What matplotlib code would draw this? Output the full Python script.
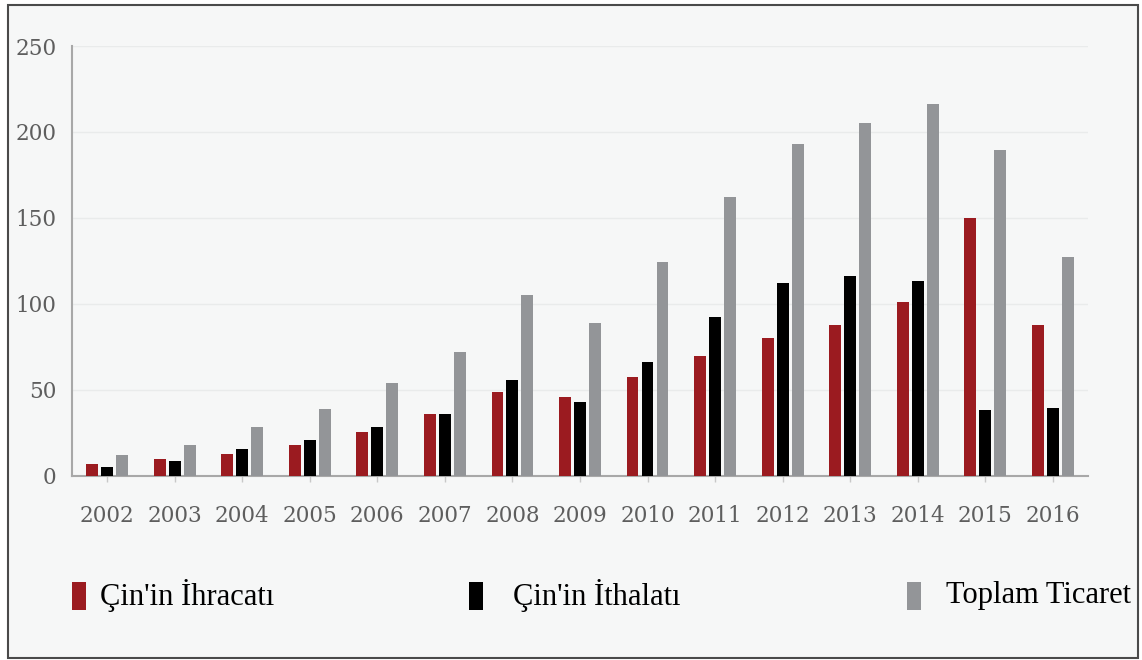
import matplotlib
matplotlib.use("Agg")
import matplotlib.pyplot as plt
from matplotlib.patches import Rectangle
import numpy as np

# Data
years = ['2002', '2003', '2004', '2005', '2006', '2007', '2008', '2009',
         '2010', '2011', '2012', '2013', '2014', '2015', '2016']
exports = [7, 10, 13, 18, 25.5, 36, 49, 46, 57.5, 69.5, 80, 88, 101, 150, 87.5]
imports = [5, 8.5, 15.5, 21, 28.5, 36, 56, 43, 66, 92.5, 112, 116, 113.5, 38.5, 39.5]
total = [12, 18, 28.5, 39, 54, 72, 105, 89, 124.5, 162, 193, 205, 216, 189.5, 127.5]
series_names = ["Çin'in İhracatı", "Çin'in İthalatı", "Toplam Ticaret"]

red = '#9b1b20'
black = '#000000'
gray = '#939598'

fig = plt.figure(figsize=(11.42, 6.60), dpi=100, facecolor='white')

# outer panel with border
fig.patches.append(Rectangle((8 / 1142, 2 / 660), 1130 / 1142, 653 / 660,
                             transform=fig.transFigure, facecolor='#f6f7f7',
                             edgecolor='#4a4a4a', linewidth=1.5, zorder=-10))

ax = fig.add_axes([0.063, 0.2788, 0.8897, 0.6515])
ax.set_facecolor('none')

x = np.arange(len(years))
w = 0.175
step = 0.222
ax.bar(x - step, exports, w, color=red, zorder=3)
ax.bar(x, imports, w, color=black, zorder=3)
ax.bar(x + step, total, w, color=gray, zorder=3)

ax.set_xlim(-0.52, len(years) - 1 + 0.52)
ax.set_ylim(0, 250)
ax.set_yticks([0, 50, 100, 150, 200, 250])
ax.set_xticks(x)
ax.set_xticklabels(years)

ax.grid(axis='y', color='#e9ebeb', linewidth=1, zorder=0)
for s in ['top', 'right']:
    ax.spines[s].set_visible(False)
for s in ['left', 'bottom']:
    ax.spines[s].set_color('#a8a8a8')
    ax.spines[s].set_linewidth(1.5)

ax.tick_params(axis='y', length=0, pad=11, labelsize=15.5, labelcolor='#5e5e5e')
ax.tick_params(axis='x', length=4, width=1, color='#c8c8c8', pad=17,
               labelsize=15.5, labelcolor='#5e5e5e')
for lab in ax.get_xticklabels() + ax.get_yticklabels():
    lab.set_family('DejaVu Serif')

# legend drawn across the bottom
leg_colors = [red, black, gray]
box_x = [72, 469, 907]
text_x = [100, 513, 946]
for name, c, bx, tx in zip(series_names, leg_colors, box_x, text_x):
    fig.patches.append(Rectangle((bx / 1142, 50 / 660), 14 / 1142, 28 / 660,
                                 transform=fig.transFigure, facecolor=c,
                                 edgecolor='none'))
    fig.text(tx / 1142, 1 - 596 / 660, name, family='Liberation Serif',
             fontsize=22, color='black', va='center', ha='left')

fig.savefig('out.png', dpi=100, facecolor=fig.get_facecolor())
